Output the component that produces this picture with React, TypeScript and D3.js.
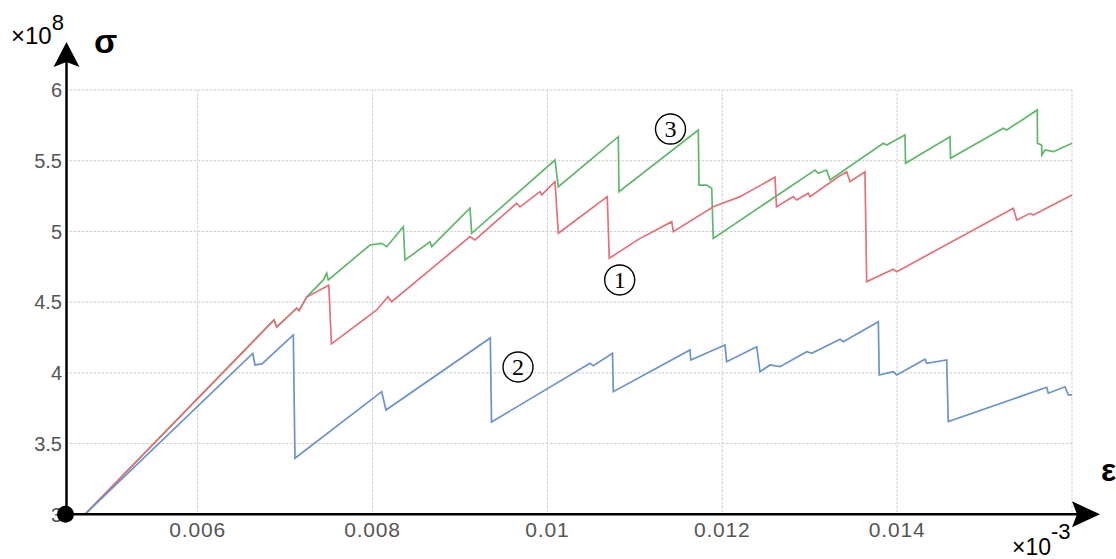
import React from "react";
import * as d3 from "d3";

// strain (x) in absolute units, stress (y) in units of 1e8
const xTicks = [0.006, 0.008, 0.01, 0.012, 0.014];
const xTickLabels = ["0.006", "0.008", "0.01", "0.012", "0.014"];
const yTicks = [3, 3.5, 4, 4.5, 5, 5.5, 6];
const yTickLabels = ["3", "3.5", "4", "4.5", "5", "5.5", "6"];

const curve1Red: [number, number][] = [
  [0.004712, 3.0], [0.006873, 4.374], [0.006904, 4.324], [0.007133, 4.457], [0.00716, 4.44],
  [0.007247, 4.536], [0.0075, 4.62], [0.00753, 4.205], [0.008048, 4.445], [0.008177, 4.539],
  [0.008219, 4.503], [0.009115, 4.963], [0.009172, 4.94], [0.009649, 5.199], [0.009687, 5.173],
  [0.009915, 5.281], [0.009935, 5.258], [0.010087, 5.352], [0.010125, 4.987], [0.010685, 5.246],
  [0.010708, 4.81], [0.011059, 4.951], [0.011174, 4.987], [0.011422, 5.069], [0.01144, 4.998],
  [0.011897, 5.175], [0.012203, 5.246], [0.012603, 5.383], [0.01262, 5.175], [0.012812, 5.246],
  [0.01285, 5.222], [0.012984, 5.27], [0.013003, 5.246], [0.013327, 5.387], [0.013423, 5.422],
  [0.013461, 5.352], [0.013632, 5.422], [0.013652, 4.645], [0.013956, 4.732], [0.013995, 4.715],
  [0.015329, 5.164], [0.015368, 5.081], [0.01552, 5.128], [0.015557, 5.116], [0.016, 5.258],
];

const curve2Blue: [number, number][] = [
  [0.004712, 3.0], [0.00663, 4.138], [0.006656, 4.056], [0.006736, 4.063], [0.007094, 4.268],
  [0.007113, 3.396], [0.008105, 3.867], [0.008154, 3.737], [0.009347, 4.247], [0.009361, 3.653],
  [0.010487, 4.068], [0.010525, 4.05], [0.010745, 4.138], [0.010754, 3.867], [0.011631, 4.162],
  [0.01164, 4.091], [0.012031, 4.197], [0.01205, 4.079], [0.012394, 4.185], [0.012432, 4.008],
  [0.012546, 4.056], [0.01266, 4.044], [0.012966, 4.15], [0.013023, 4.138], [0.013347, 4.237],
  [0.013384, 4.22], [0.013785, 4.362], [0.013795, 3.985], [0.013956, 4.008], [0.013995, 3.985],
  [0.014319, 4.096], [0.014338, 4.068], [0.014567, 4.091], [0.014585, 3.655], [0.015711, 3.898],
  [0.015729, 3.856], [0.01592, 3.902], [0.015958, 3.844], [0.016, 3.844],
];

const curve3Green: [number, number][] = [
  [0.004712, 3.0], [0.006873, 4.374], [0.006904, 4.324], [0.007133, 4.457], [0.00716, 4.44],
  [0.007247, 4.536], [0.007437, 4.657], [0.007476, 4.704], [0.007494, 4.657], [0.007971, 4.904],
  [0.008105, 4.916], [0.008162, 4.892], [0.008352, 5.034], [0.008371, 4.798], [0.008657, 4.927],
  [0.008677, 4.892], [0.008809, 4.975], [0.009115, 5.164], [0.009134, 4.987], [0.010087, 5.505],
  [0.010125, 5.316], [0.010811, 5.67], [0.010819, 5.281], [0.011726, 5.717], [0.011734, 5.328],
  [0.011822, 5.328], [0.011879, 5.305], [0.011897, 4.951], [0.013061, 5.434], [0.013099, 5.411],
  [0.013194, 5.434], [0.013232, 5.364], [0.013842, 5.623], [0.013881, 5.611], [0.01409, 5.682],
  [0.014096, 5.482], [0.014605, 5.67], [0.014611, 5.517], [0.015214, 5.729], [0.015253, 5.717],
  [0.015603, 5.859], [0.015605, 5.623], [0.015653, 5.611], [0.015655, 5.541], [0.015692, 5.576],
  [0.015787, 5.564], [0.016, 5.623],
];

const curveLabels = ["1", "2", "3"];
const curveLabelPos: [number, number][] = [
  [0.010827, 4.657], [0.009664, 4.0415], [0.011408, 5.724],
];

export default function App() {
  const W = 1116, H = 559;
  const x = d3.scaleLinear().domain([0.0045, 0.016]).range([66.5, 1072]);
  const y = d3.scaleLinear().domain([3, 6]).range([514.3, 90]);
  const line = d3.line<[number, number]>().x(d => x(d[0])).y(d => y(d[1]));
  const x0 = x(0.0045), x1 = x(0.016), y0 = y(3), y1 = y(6);
  const tickFont = "'Liberation Sans', Arial, sans-serif";

  return (
    <svg width={W} height={H} style={{ position: "absolute", left: 0, top: 0, background: "#fff" }}>
      {/* grid */}
      <g>
        {xTicks.concat([0.016]).map((t, i) => (
          <g key={"gx" + i}>
            <line x1={x(t)} x2={x(t)} y1={y1} y2={y0} stroke="#efefef" strokeWidth={1} />
            <line x1={x(t)} x2={x(t)} y1={y1} y2={y0} stroke="#c8c8c8" strokeWidth={1} strokeDasharray="1.5 2.5" />
          </g>
        ))}
        {yTicks.map((t, i) => (
          <g key={"gy" + i}>
            <line x1={x0} x2={x1} y1={y(t)} y2={y(t)} stroke="#efefef" strokeWidth={1} />
            <line x1={x0} x2={x1} y1={y(t)} y2={y(t)} stroke="#c8c8c8" strokeWidth={1} strokeDasharray="1.5 2.5" />
          </g>
        ))}
      </g>
      {/* tick labels */}
      {xTicks.map((t, i) => (
        <text key={"xl" + i} x={x(t)} y={537} textAnchor="middle" fontFamily={tickFont} fontSize={21} letterSpacing={0.8} fill="#555">
          {xTickLabels[i]}
        </text>
      ))}
      {yTicks.map((t, i) => (
        <text key={"yl" + i} x={62} y={y(t)} dy="0.36em" textAnchor="end" fontFamily={tickFont} fontSize={20} fill="#555">
          {yTickLabels[i]}
        </text>
      ))}
      {/* curves */}
      <path d={line(curve3Green) || ""} fill="none" stroke="#5fb86a" strokeWidth={1.7} />
      <path d={line(curve1Red) || ""} fill="none" stroke="#e4707a" strokeWidth={1.7} />
      <path d={line(curve2Blue) || ""} fill="none" stroke="#6b93c8" strokeWidth={1.7} />
      {/* curve labels */}
      {curveLabelPos.map((p, i) => (
        <g key={"cl" + i}>
          <circle cx={x(p[0])} cy={y(p[1])} r={15} fill="none" stroke="#000" strokeWidth={1.4} />
          <text x={x(p[0])} y={y(p[1])} dy="0.35em" textAnchor="middle" fontFamily="'Liberation Serif', 'DejaVu Serif', serif" fontSize={24} fill="#000">
            {curveLabels[i]}
          </text>
        </g>
      ))}
      {/* axes */}
      <line x1={x0} x2={x0} y1={y0} y2={62} stroke="#000" strokeWidth={2.5} />
      <path d={`M${x0},42 L${x0 - 13},67 L${x0},62 L${x0 + 13},67 Z`} fill="#000" />
      <line x1={x0} x2={1078} y1={y0} y2={y0} stroke="#000" strokeWidth={2.5} />
      <path d={`M1100,${y0} L1072,${y0 - 13} L1077,${y0} L1072,${y0 + 13} Z`} fill="#000" />
      <circle cx={x0 - 1} cy={y0} r={8.5} fill="#000" />
      {/* axis labels */}
      <text x={11} y={44} fontFamily={tickFont} fontSize={24} fill="#000">
        ×10<tspan dy={-14} fontSize={22}>8</tspan>
      </text>
      <text x={94} y={53} fontFamily={tickFont} fontSize={34} fontWeight="bold" fill="#000">σ</text>
      <text x={1101} y={481} fontFamily={tickFont} fontSize={32} fontWeight="bold" fill="#000">ε</text>
      <text x={1012} y={555} fontFamily={tickFont} fontSize={23} fill="#000">
        ×10<tspan dy={-16} fontSize={22}>-3</tspan>
      </text>
    </svg>
  );
}
